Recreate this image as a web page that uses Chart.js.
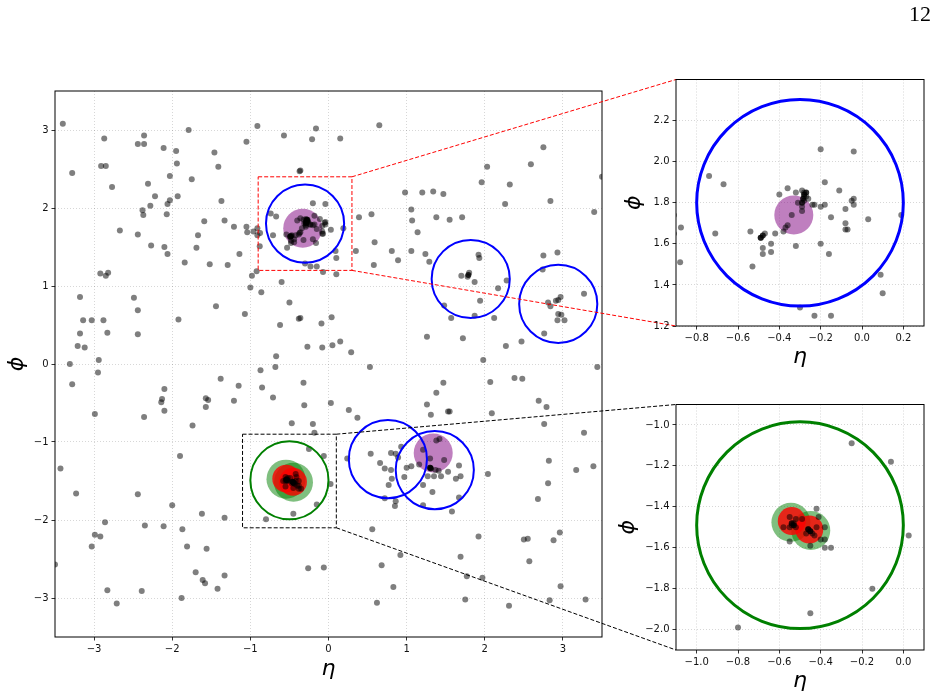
<!DOCTYPE html>
<html>
<head>
<meta charset="utf-8">
<script src="https://cdn.jsdelivr.net/npm/chart.js@4.4.1/dist/chart.umd.min.js"></script>
<style>
  html, body { margin: 0; padding: 0; background: #fff; width: 937px; height: 697px; overflow: hidden; }
  body { position: relative; }
  canvas { position: absolute; }
  #page { position: absolute; right: 6px; top: 1px; font: 22px "Liberation Serif", "DejaVu Serif", serif; color: #000; }
</style>
</head>
<body>
<canvas id="main" width="937" height="697" style="left:0px;top:0px"></canvas>
<canvas id="zoomTop" width="377" height="310" style="left:600px;top:60px"></canvas>
<canvas id="zoomBottom" width="377" height="312" style="left:600px;top:385px"></canvas>
<div id="page">12</div>
<script>
// particles, [eta, phi]
const particles = [
  [-3.40,3.08],[-3.28,2.45],[-2.87,2.89],[-2.91,2.54],[-2.85,2.54],[-2.77,2.27],
  [-2.44,2.82],[-2.36,2.93],[-2.36,2.82],[-2.11,2.77],[-1.95,2.73],[-1.94,2.57],
  [-2.03,2.41],[-2.31,2.31],[-2.22,2.15],[-2.28,2.03],[-2.38,1.97],[-2.37,1.91],
  [-2.03,2.10],[-2.06,2.05],[-2.07,1.92],[-1.93,2.15],[-1.79,3.00],[-1.75,2.37],
  [-1.46,2.71],[-1.41,2.53],[-1.37,2.09],[-1.59,1.83],[-1.33,1.84],[-1.21,1.76],
  [-1.05,1.76],[-1.04,1.69],[-0.96,1.70],[-0.91,1.74],[-0.91,1.65],
  [-1.05,2.85],[-0.91,3.05],[-0.57,2.93],[-0.21,2.88],[-0.16,3.02],[-0.37,2.47],[-0.36,2.48],
  [-2.67,1.71],[-2.44,1.66],[-2.27,1.52],[-2.10,1.50],[-2.06,1.41],[-1.67,1.65],
  [-1.69,1.49],[-1.84,1.30],[-1.52,1.28],[-1.29,1.27],[-1.14,1.41],
  [-0.92,1.19],[-0.98,1.13],[-1.00,0.98],[-0.86,0.92],[-0.60,1.05],[-0.50,0.79],
  [-0.38,0.58],[-0.62,0.50],[-0.27,0.22],[-0.67,0.10],[-0.68,-0.04],[-0.87,-0.08],
  [-1.07,0.64],[-1.44,0.74],[-1.92,0.57],[-2.49,0.85],[-2.44,0.69],[-2.44,0.38],
  [-2.92,1.16],[-2.85,1.13],[-2.82,1.17],[-3.18,0.86],[-3.14,0.56],[-3.03,0.56],
  [-2.88,0.56],[-3.18,0.39],[-2.83,0.40],[-3.21,0.23],[-3.12,0.21],[-2.94,0.05],
  [-3.31,0.00],[-2.95,-0.11],[-1.38,-0.19],
  [0.15,2.89],[0.65,3.06],[2.75,2.78],[2.59,2.56],[2.03,2.53],[1.96,2.33],[2.32,2.30],
  [2.26,2.05],[2.84,2.09],[3.50,2.40],[3.40,1.95],
  [0.98,2.20],[1.20,2.20],[1.34,2.21],[1.47,2.18],[1.06,1.98],[1.07,1.84],
  [1.38,1.88],[1.55,1.85],[1.71,1.88],[1.14,1.69],[0.39,1.88],[0.55,1.92],
  [0.35,1.45],[0.10,1.15],[-0.07,1.18],
  [0.59,1.56],[0.58,1.27],[0.81,1.45],[0.89,1.33],[1.06,1.45],[1.24,1.41],[1.29,1.31],
  [1.92,1.40],[1.93,1.36],[1.70,1.13],[1.78,1.12],[1.80,1.17],[1.87,1.05],[1.94,0.81],
  [2.17,0.97],[2.28,1.07],[1.48,0.75],[1.57,0.59],[1.87,0.62],[2.12,0.59],[1.26,0.35],
  [1.72,0.33],[1.98,0.05],[2.27,0.23],[2.47,0.29],[2.38,-0.18],[2.48,-0.19],
  [2.75,1.39],[2.93,1.43],[2.74,1.21],
  [2.81,0.79],[2.84,0.74],[2.91,0.81],[2.94,0.82],[2.97,0.86],[2.94,0.64],[2.98,0.63],
  [3.02,0.56],[2.93,0.56],[3.27,0.90],[2.76,0.39],[3.44,-0.04],
  [-0.36,0.59],[0.04,0.60],[-0.09,0.52],[-0.08,0.21],[0.05,0.24],[0.15,0.29],[0.29,0.15],[0.53,-0.04],
  [-3.28,-0.26],[-2.99,-0.64],[-2.10,-0.32],[-2.13,-0.45],[-2.14,-0.49],[-2.10,-0.60],
  [-2.36,-0.68],[-1.74,-0.79],[-1.57,-0.44],[-1.54,-0.46],[-1.57,-0.55],
  [-1.21,-0.47],[-1.15,-0.28],[-0.85,-0.30],[-0.71,-0.43],[-0.32,-0.24],[-0.31,-0.53],
  [-0.47,-0.76],[-0.20,-0.77],[-0.18,-0.88],
  [-3.43,-1.34],[-3.23,-1.66],[-2.44,-1.67],[-1.90,-1.18],[-2.00,-1.81],[-1.62,-1.92],
  [-1.33,-1.97],[-2.86,-2.03],[-2.99,-2.19],[-2.92,-2.21],[-3.03,-2.34],[-2.35,-2.07],
  [-2.11,-2.08],[-1.87,-2.12],[-1.81,-2.34],[-1.56,-2.37],[-1.70,-2.67],[-1.61,-2.77],
  [-1.58,-2.81],[-1.33,-2.71],[-1.42,-2.88],[-1.88,-3.00],[-2.39,-2.91],[-2.83,-2.90],
  [-2.71,-3.07],[-0.26,-2.62],[-3.50,-2.57],
  [0.03,-0.50],[0.26,-0.59],[0.37,-0.69],[-0.06,-2.61],[0.62,-3.06],[0.83,-2.86],
  [0.68,-2.58],[0.92,-2.45],[0.56,-2.12],[1.47,-0.24],[1.38,-0.37],[1.26,-0.52],
  [1.31,-0.65],[1.53,-0.61],[1.55,-0.61],[2.07,-0.23],[2.09,-0.63],[2.69,-0.47],
  [2.79,-0.55],[2.76,-0.77],[3.27,-0.88],[2.82,-1.24],[2.81,-1.53],[2.68,-1.73],
  [3.17,-1.36],[3.39,-1.31],[2.04,-1.41],[1.92,-2.21],[1.69,-2.47],[2.50,-2.25],
  [2.55,-2.24],[2.57,-2.53],[2.88,-2.26],[2.96,-2.16],[2.97,-2.85],[2.83,-3.03],
  [3.29,-3.02],[2.31,-3.10],[1.77,-2.72],[1.97,-2.74],[1.75,-3.02],[0.24,-1.21],
  [0.54,-1.15],[0.66,-1.27],[0.72,-1.34],[0.80,-1.14],[0.86,-1.15],[0.89,-1.20],
  [0.93,-1.06],[0.80,-1.36],[0.81,-1.47],[0.77,-1.55],[0.72,-1.72],[0.86,-1.76],
  [0.85,-1.82],[0.97,-1.45],[1.00,-1.33],[1.06,-1.31],[1.16,-1.29],[1.21,-1.55],
  [1.21,-1.81],[1.21,-1.10],[1.30,-1.21],[1.30,-1.33],[1.27,-1.44],[1.35,-1.44],
  [1.37,-1.36],[1.44,-1.44],[1.41,-1.37],[1.48,-1.23],[1.53,-1.38],[1.67,-1.30],
  [1.63,-1.47],[1.69,-1.44],[1.33,-1.64],[1.67,-1.71],[1.58,-1.89],[1.38,-0.98],[1.42,-0.96],
  // upper cluster (read from the top zoom)
  [-0.876,1.68],[-0.88,1.51],[-0.74,1.93],[-0.67,1.89],[-0.71,1.65],[-0.53,1.49],
  [-0.54,1.66],[-0.49,1.63],[-0.47,1.65],[-0.48,1.58],[-0.48,1.55],[-0.44,1.60],
  [-0.44,1.56],[-0.42,1.65],[-0.40,1.84],[-0.38,1.66],[-0.37,1.68],[-0.36,1.69],
  [-0.36,1.87],[-0.34,1.74],[-0.32,1.85],[-0.32,1.59],[-0.31,1.80],[-0.30,1.29],
  [-0.29,1.86],[-0.28,1.85],[-0.28,1.83],[-0.28,1.81],[-0.29,1.78],[-0.29,1.76],
  [-0.27,1.83],[-0.26,1.82],[-0.24,1.79],[-0.23,1.79],[-0.23,1.25],[-0.20,2.06],
  [-0.20,1.78],[-0.20,1.60],[-0.18,1.79],[-0.18,1.90],[-0.16,1.55],[-0.15,1.25],
  [-0.15,1.73],[-0.11,1.86],[-0.08,1.77],[-0.08,1.70],[-0.08,1.67],[-0.07,1.67],
  [-0.05,1.81],[-0.04,1.82],[-0.04,1.79],[-0.04,2.05],[0.03,1.72],[0.09,1.45],
  [0.10,1.36],[0.19,1.74],
  // lower cluster (read from the bottom zoom)
  [-0.25,-1.09],[-0.06,-1.18],[0.026,-1.54],[-0.15,-1.80],[-0.45,-1.92],[-0.80,-1.99],
  [-0.42,-1.41],[-0.41,-1.45],[-0.38,-1.50],[-0.38,-1.56],[-0.38,-1.60],[-0.35,-1.60],
  [-0.40,-1.56],[-0.45,-1.59],[-0.55,-1.57],[-0.58,-1.50],[-0.55,-1.45],[-0.52,-1.46],
  [-0.49,-1.46],[-0.54,-1.49],[-0.53,-1.48],[-0.55,-1.50],[-0.52,-1.50],
  [-0.46,-1.51],[-0.45,-1.52],[-0.44,-1.53],[-0.43,-1.54],[-0.47,-1.53],[-0.42,-1.50]
];
// dense hits that show up black
const coreHits = [
  [-0.28,1.84],[-0.285,1.82],[-0.27,1.85],[-0.29,1.80],[-0.49,1.63],[-0.48,1.64],
  [-0.54,-1.48],[-0.53,-1.49],[-0.45,-1.52],[-0.46,-1.51],
  [1.30,-1.33],[1.31,-1.34],[1.79,1.14]
];
const seedJets = [[-0.33, 1.74], [1.34, -1.14]];          // purple
const truthJets = [[-0.544, -1.476], [-0.448, -1.516]];   // green
const matchedJets = [[-0.54, -1.47], [-0.455, -1.511]];   // red

// jet cones
const ringEta = [-0.30, 1.82, 2.94, 0.76, 1.36, -0.50];
const ringPhi = [1.80, 1.09, 0.77, -1.22, -1.36, -1.49];
const ringType = ['reco', 'reco', 'reco', 'reco', 'reco', 'truth'];
const ringR = 0.5;

// axes
const mainRange = [-3.5, 3.5];
const mainTicks = [-3, -2, -1, 0, 1, 2, 3];
const topEta = [-0.9, 0.3];
const topPhi = [1.2, 2.4];
const topEtaTicks = [-0.8, -0.6, -0.4, -0.2, 0.0, 0.2];
const topPhiTicks = [1.2, 1.4, 1.6, 1.8, 2.0, 2.2];
const botEta = [-1.1, 0.1];
const botPhi = [-2.1, -0.9];
const botEtaTicks = [-1.0, -0.8, -0.6, -0.4, -0.2, 0.0];
const botPhiTicks = [-2.0, -1.8, -1.6, -1.4, -1.2, -1.0];

const ringColor = { reco: '#0000ff', truth: '#008000' };

Chart.defaults.font.family = '"DejaVu Sans", sans-serif';
Chart.defaults.color = '#000';

const pts = arr => arr.map(p => ({ x: p[0], y: p[1] }));
const fmt = (v, d) => Number(v).toFixed(d).replace('-', '\u2212');

function datasets() {
  return [
    { data: pts(coreHits), pointRadius: 3, backgroundColor: 'rgba(0,0,0,0.8)', order: 0 },
    { data: pts(particles), pointRadius: 3, backgroundColor: 'rgba(0,0,0,0.5)', order: 1 },
    { data: pts(matchedJets), pointRadius: 14, backgroundColor: 'rgba(255,0,0,0.8)', order: 2 },
    { data: pts(truthJets), pointRadius: 19.5, backgroundColor: 'rgba(0,128,0,0.5)', order: 3 },
    { data: pts(seedJets), pointRadius: 19.5, backgroundColor: 'rgba(128,0,128,0.5)', order: 3 }
  ].map(d => ({ ...d, type: 'scatter', borderWidth: 0, pointHoverRadius: d.pointRadius, clip: 0 }));
}

function axis(range, ticks, digits, size, title, titlePad) {
  return {
    type: 'linear',
    min: range[0],
    max: range[1],
    bounds: 'data',
    afterFit: s => {
      if (s.isHorizontal()) { s.height = size; s.paddingLeft = 0; s.paddingRight = 0; }
      else { s.width = size; s.paddingTop = 0; s.paddingBottom = 0; }
    },
    afterBuildTicks: s => { s.ticks = ticks.map(v => ({ value: v })); },
    ticks: { callback: v => fmt(v, digits), color: '#111', padding: 3, font: { size: 10 }, maxRotation: 0, autoSkip: false },
    grid: { color: 'rgba(0,0,0,0.2)', lineWidth: 0.8, tickColor: '#000', tickLength: 3.5, tickWidth: 0.8 },
    border: { display: false, dash: [1, 2] },
    title: { display: true, text: title, color: '#000', font: { size: 22, style: 'italic' }, padding: titlePad }
  };
}

const decor = {
  id: 'decor',
  afterDatasetsDraw(chart, args, o) {
    const { ctx, chartArea: a, scales: { x, y } } = chart;
    ctx.save();
    ctx.beginPath();
    ctx.rect(a.left, a.top, a.width, a.height);
    ctx.clip();
    ctx.lineWidth = o.ringWidth;
    ringEta.forEach((e, i) => {
      const cx = x.getPixelForValue(e);
      const cy = y.getPixelForValue(ringPhi[i]);
      const r = Math.abs(x.getPixelForValue(e + ringR) - cx);
      ctx.strokeStyle = ringColor[ringType[i]];
      ctx.beginPath();
      ctx.arc(cx, cy, r, 0, Math.PI * 2);
      ctx.stroke();
    });
    ctx.restore();
    ctx.save();
    ctx.strokeStyle = '#000';
    ctx.lineWidth = 1;
    ctx.strokeRect(a.left, a.top, a.width, a.height);
    ctx.restore();
  },
  afterDraw(chart, args, o) {
    if (!o.links) return;
    const { ctx, scales: { x, y } } = chart;
    o.links.forEach(link => {
      const z = link.target;
      const za = z.chartArea;
      const ox = z.canvas.offsetLeft - chart.canvas.offsetLeft;
      const oy = z.canvas.offsetTop - chart.canvas.offsetTop;
      const L = x.getPixelForValue(link.eta[0]), R = x.getPixelForValue(link.eta[1]);
      const T = y.getPixelForValue(link.phi[1]), B = y.getPixelForValue(link.phi[0]);
      ctx.save();
      ctx.strokeStyle = link.color;
      ctx.lineWidth = 1;
      ctx.setLineDash([4, 2]);
      ctx.strokeRect(L, T, R - L, B - T);
      ctx.beginPath();
      ctx.moveTo(R, T);
      ctx.lineTo(ox + za.left, oy + za.top);
      ctx.moveTo(R, B);
      ctx.lineTo(ox + za.left, oy + za.bottom);
      ctx.stroke();
      ctx.restore();
    });
  }
};

function makeChart(id, xAxis, yAxis, padding, plug) {
  return new Chart(document.getElementById(id), {
    type: 'scatter',
    data: { datasets: datasets() },
    options: {
      responsive: false,
      animation: false,
      events: [],
      layout: { padding },
      scales: { x: xAxis, y: yAxis },
      plugins: { legend: { display: false }, tooltip: { enabled: false }, decor: plug }
    },
    plugins: [decor]
  });
}

const zoomTop = makeChart('zoomTop',
  axis(topEta, topEtaTicks, 1, 44, '\u03b7', { top: 0, bottom: 0 }),
  axis(topPhi, topPhiTicks, 1, 76, '\u03d5', { top: 21, bottom: 0 }),
  { left: 0, top: 18, right: 53, bottom: 0 },
  { ringWidth: 3 });

const zoomBottom = makeChart('zoomBottom',
  axis(botEta, botEtaTicks, 1, 47, '\u03b7', { top: 0, bottom: 3 }),
  axis(botPhi, botPhiTicks, 1, 76, '\u03d5', { top: 15, bottom: 0 }),
  { left: 0, top: 16, right: 53, bottom: 0 },
  { ringWidth: 3 });

makeChart('main',
  axis(mainRange, mainTicks, 0, 60, '\u03b7', { top: 0, bottom: 15 }),
  axis(mainRange, mainTicks, 0, 55, '\u03d5', { top: 4, bottom: 0 }),
  { left: 0, top: 91, right: 335, bottom: 0 },
  {
    ringWidth: 2,
    links: [
      { target: zoomTop, eta: topEta, phi: topPhi, color: '#ff0000' },
      { target: zoomBottom, eta: botEta, phi: botPhi, color: '#000000' }
    ]
  });
</script>
</body>
</html>
